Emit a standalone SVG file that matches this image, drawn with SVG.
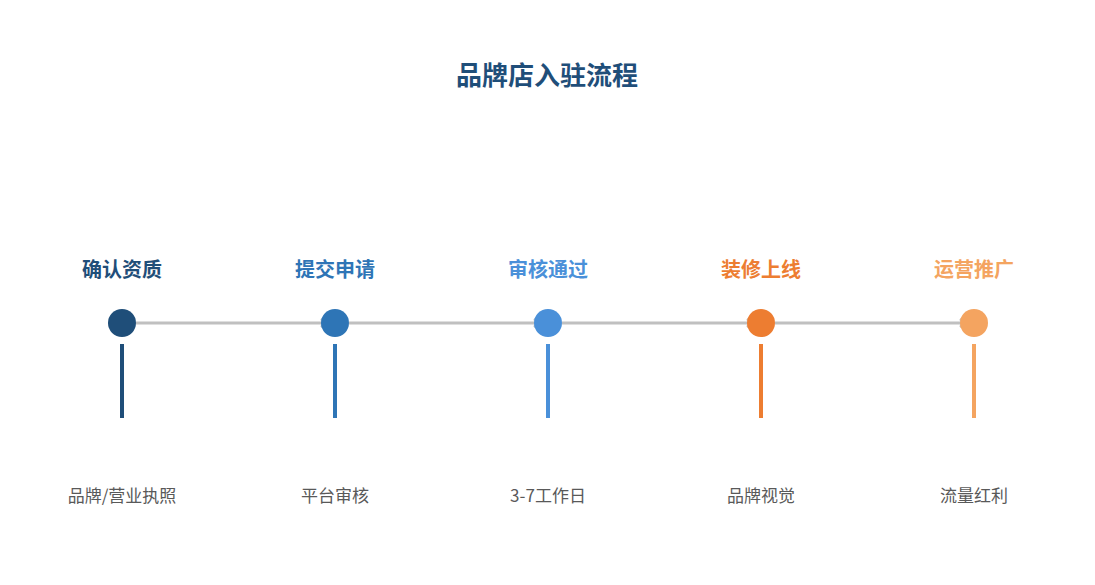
<svg xmlns="http://www.w3.org/2000/svg" width="1095" height="585" viewBox="0 0 1095 585">
<style>
.t{font-family:"Noto Sans CJK SC","Liberation Sans",sans-serif;text-anchor:middle}
.h{font-size:20px;font-weight:bold}
.d{font-size:17px;fill:#595959}
.c{fill:none;stroke:#c0c0c0;stroke-width:3}
</style>
<defs><marker id="a" markerWidth="10" markerHeight="10" refX="7" refY="5" orient="auto" markerUnits="userSpaceOnUse"><path d="M2,1 L7,5 L2,9" fill="none" stroke="#c0c0c0" stroke-width="2.5"/></marker></defs>
<rect width="1095" height="585" fill="#fff"/>
<text class="t" x="547" y="85" font-size="26" font-weight="bold" fill="#1f4e79">品牌店入驻流程</text>
<g id="connectors">
<line class="c" x1="136" y1="323" x2="326" y2="323" marker-end="url(#a)"/>
<line class="c" x1="349" y1="323" x2="539" y2="323" marker-end="url(#a)"/>
<line class="c" x1="562" y1="323" x2="752" y2="323" marker-end="url(#a)"/>
<line class="c" x1="775" y1="323" x2="965" y2="323" marker-end="url(#a)"/>
</g>
<g id="n1"><text class="t h" x="122" y="277" fill="#1f4e79">确认资质</text><circle cx="122" cy="323" r="14" fill="#1f4e79"/><line x1="122" y1="344" x2="122" y2="418" stroke="#1f4e79" stroke-width="4"/><text class="t d" x="122" y="502">品牌/营业执照</text></g>
<g id="n2"><text class="t h" x="335" y="277" fill="#2e75b6">提交申请</text><circle cx="335" cy="323" r="14" fill="#2e75b6"/><line x1="335" y1="344" x2="335" y2="418" stroke="#2e75b6" stroke-width="4"/><text class="t d" x="335" y="502">平台审核</text></g>
<g id="n3"><text class="t h" x="548" y="277" fill="#4a90d9">审核通过</text><circle cx="548" cy="323" r="14" fill="#4a90d9"/><line x1="548" y1="344" x2="548" y2="418" stroke="#4a90d9" stroke-width="4"/><text class="t d" x="548" y="502">3-7工作日</text></g>
<g id="n4"><text class="t h" x="761" y="277" fill="#ed7d31">装修上线</text><circle cx="761" cy="323" r="14" fill="#ed7d31"/><line x1="761" y1="344" x2="761" y2="418" stroke="#ed7d31" stroke-width="4"/><text class="t d" x="761" y="502">品牌视觉</text></g>
<g id="n5"><text class="t h" x="974" y="277" fill="#f4a460">运营推广</text><circle cx="974" cy="323" r="14" fill="#f4a460"/><line x1="974" y1="344" x2="974" y2="418" stroke="#f4a460" stroke-width="4"/><text class="t d" x="974" y="502">流量红利</text></g>
</svg>
